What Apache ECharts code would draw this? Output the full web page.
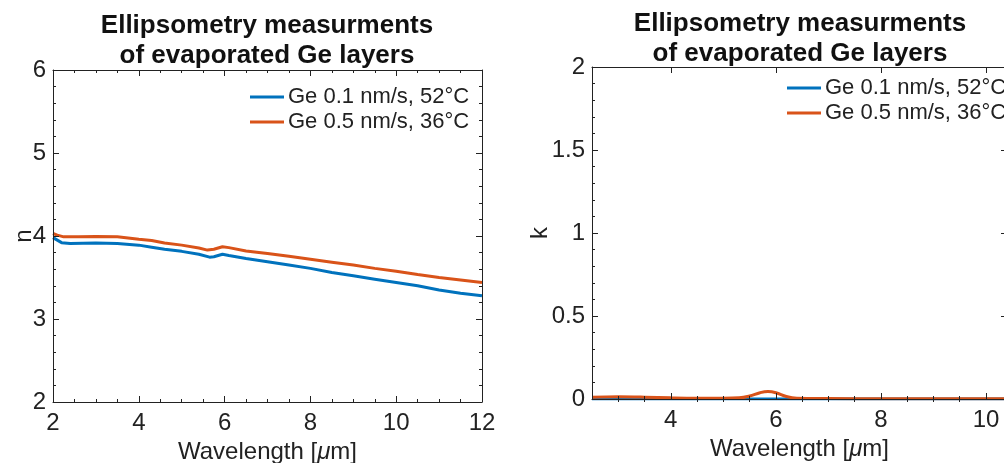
<!DOCTYPE html>
<html>
<head>
<meta charset="utf-8">
<script src="https://cdn.jsdelivr.net/npm/echarts@6/dist/echarts.min.js"></script>
<style>
  html, body { margin: 0; padding: 0; background: #fff; }
  #chart { width: 1004px; height: 463px; }
</style>
</head>
<body>
<div id="chart"></div>
<script>
// Refractive index n vs wavelength (µm)
const nWavelengthSlow = [2.0, 2.1, 2.2, 2.4, 3.0, 3.5, 4.0, 4.3, 4.6, 5.0, 5.4, 5.65, 5.75, 5.95, 6.1, 6.5, 7.0, 7.5, 8.0, 8.5, 9.0, 9.5, 10.0, 10.5, 11.0, 11.5, 12.0];
const nSlow = [3.98, 3.95, 3.92, 3.91, 3.915, 3.91, 3.89, 3.865, 3.84, 3.815, 3.78, 3.745, 3.75, 3.78, 3.765, 3.73, 3.69, 3.65, 3.61, 3.56, 3.52, 3.48, 3.44, 3.40, 3.35, 3.31, 3.28];
const nWavelengthFast = [2.0, 2.1, 2.25, 2.6, 3.0, 3.5, 4.0, 4.3, 4.6, 5.0, 5.4, 5.6, 5.75, 5.95, 6.1, 6.5, 7.0, 7.5, 8.0, 8.5, 9.0, 9.5, 10.0, 10.5, 11.0, 11.5, 12.0];
const nFast = [4.03, 4.01, 3.99, 3.99, 3.995, 3.99, 3.96, 3.945, 3.915, 3.89, 3.855, 3.83, 3.84, 3.87, 3.86, 3.82, 3.79, 3.755, 3.72, 3.685, 3.65, 3.61, 3.575, 3.535, 3.50, 3.47, 3.44];

// Extinction coefficient k vs wavelength (µm)
const kWavelengthSlow = [2.5, 4.0, 6.0, 8.0, 10.4];
const kSlow = [0, 0, 0, 0, 0];
const kWavelengthFast = [2.5, 3.0, 3.5, 4.0, 4.5, 5.0, 5.3, 5.5, 5.7, 5.85, 6.0, 6.2, 6.4, 7.0, 8.0, 9.0, 10.4];
const kFast = [0.010, 0.013, 0.011, 0.007, 0.005, 0.005, 0.007, 0.018, 0.038, 0.045, 0.038, 0.015, 0.005, 0.003, 0.002, 0.002, 0.002];

const seriesNames = ['Ge 0.1 nm/s, 52°C', 'Ge 0.5 nm/s, 36°C'];
const titleText = 'Ellipsometry measurments\nof evaporated Ge layers';
const xName = 'Wavelength [{it|μ}m]';

// Axis tick definitions
const nXRange = [2, 12];
const nYRange = [2, 6];
const kXRange = [2.5, 10.4];
const kYRange = [0, 2];
const kXMajor = [4, 6, 8, 10];
const kXMinor = [3, 3.5, 4.5, 5, 5.5, 6.5, 7, 7.5, 8.5, 9, 9.5];

const FONT = 'Liberation Sans, Arial, Helvetica, sans-serif';
const INK = '#222';
const BLUE = '#0072BD';
const ORANGE = '#D95319';

function pairs(xs, ys) { return xs.map((x, i) => [x, ys[i]]); }

const lineAxis = { show: true, onZero: false, lineStyle: { color: INK, width: 1 } };

function boxAxis(extra) {
  return Object.assign({
    type: 'value',
    axisLine: lineAxis,
    splitLine: { show: false },
    axisTick: { show: true, inside: true, length: 6, lineStyle: { color: INK, width: 1 } },
    minorTick: { show: true, length: 3, lineStyle: { color: INK, width: 1 } },
    axisLabel: { show: false },
    nameMoveOverlap: false,
    z: 5
  }, extra);
}

const labelStyle = { fontFamily: FONT, fontSize: 24, color: INK };
const nameStyle = {
  fontFamily: FONT, fontSize: 24, color: INK,
  rich: { it: { fontFamily: FONT, fontSize: 24, fontStyle: 'italic', color: INK } }
};

const xAxes = [
  // left panel
  boxAxis({ gridIndex: 0, position: 'bottom', min: nXRange[0], max: nXRange[1], interval: 2,
    minorTick: { show: true, splitNumber: 4, length: 3, lineStyle: { color: INK } },
    axisLabel: Object.assign({ show: true, margin: 9 }, labelStyle),
    name: xName, nameLocation: 'middle', nameGap: 38, nameTextStyle: nameStyle }),
  boxAxis({ gridIndex: 0, position: 'top', min: nXRange[0], max: nXRange[1], interval: 2,
    minorTick: { show: true, splitNumber: 4, length: 3, lineStyle: { color: INK } } }),
  // right panel: majors and minors as explicit values
  boxAxis({ gridIndex: 1, position: 'bottom', min: kXRange[0], max: kXRange[1],
    minorTick: { show: false },
    axisTick: { show: true, inside: true, length: 6, customValues: kXMajor, lineStyle: { color: INK } },
    axisLabel: Object.assign({ show: true, margin: 9, customValues: kXMajor }, labelStyle),
    name: xName, nameLocation: 'middle', nameGap: 38, nameTextStyle: nameStyle }),
  boxAxis({ gridIndex: 1, position: 'bottom', min: kXRange[0], max: kXRange[1],
    axisLine: { show: false }, minorTick: { show: false },
    axisTick: { show: true, inside: true, length: 3, customValues: kXMinor, lineStyle: { color: INK } } }),
  boxAxis({ gridIndex: 1, position: 'top', min: kXRange[0], max: kXRange[1],
    minorTick: { show: false },
    axisTick: { show: true, inside: true, length: 6, customValues: kXMajor, lineStyle: { color: INK } } }),
  boxAxis({ gridIndex: 1, position: 'top', min: kXRange[0], max: kXRange[1],
    axisLine: { show: false }, minorTick: { show: false },
    axisTick: { show: true, inside: true, length: 3, customValues: kXMinor, lineStyle: { color: INK } } })
];

const yAxes = [
  boxAxis({ gridIndex: 0, position: 'left', min: nYRange[0], max: nYRange[1], interval: 1,
    minorTick: { show: true, splitNumber: 5, length: 3, lineStyle: { color: INK } },
    axisLabel: Object.assign({ show: true, margin: 7 }, labelStyle),
    name: 'n', nameLocation: 'middle', nameGap: 17, nameTextStyle: nameStyle }),
  boxAxis({ gridIndex: 0, position: 'right', min: nYRange[0], max: nYRange[1], interval: 1,
    minorTick: { show: true, splitNumber: 5, length: 3, lineStyle: { color: INK } } }),
  boxAxis({ gridIndex: 1, position: 'left', min: kYRange[0], max: kYRange[1], interval: 0.5,
    minorTick: { show: true, splitNumber: 5, length: 3, lineStyle: { color: INK } },
    axisLabel: Object.assign({ show: true, margin: 7 }, labelStyle),
    name: 'k', nameLocation: 'middle', nameGap: 40, nameTextStyle: nameStyle }),
  boxAxis({ gridIndex: 1, position: 'right', min: kYRange[0], max: kYRange[1], interval: 0.5,
    minorTick: { show: true, splitNumber: 5, length: 3, lineStyle: { color: INK } } })
];

function lineSeries(name, color, xi, yi, data, smooth) {
  return {
    name, type: 'line', xAxisIndex: xi, yAxisIndex: yi, data,
    symbol: 'none', smooth: smooth || false, animation: false,
    lineStyle: { color, width: 3 }, itemStyle: { color }, z: 3
  };
}

const legendBase = {
  orient: 'vertical', itemWidth: 34, itemHeight: 14, itemGap: 3, padding: 0,
  data: seriesNames, icon: 'path://M0,0 L34,0 L34,3 L0,3 Z',
  textStyle: { fontFamily: FONT, fontSize: 22, color: INK, padding: [0, 0, 0, -1] },
  selectedMode: false
};

const titleStyle = { fontFamily: FONT, fontSize: 26, fontWeight: 'bold', color: '#111', lineHeight: 30 };

const chart = echarts.init(document.getElementById('chart'), null, { renderer: 'canvas' });
chart.setOption({
  backgroundColor: '#fff',
  animation: false,
  title: [
    { text: titleText, left: 267, top: 11, padding: 0, textAlign: 'center', textStyle: titleStyle },
    { text: titleText, left: 800, top: 9, padding: 0, textAlign: 'center', textStyle: titleStyle }
  ],
  grid: [
    { left: 53, top: 70, width: 429, height: 332, containLabel: false, outerBoundsMode: 'none' },
    { left: 592, top: 67, width: 415, height: 332, containLabel: false, outerBoundsMode: 'none' }
  ],
  legend: [
    Object.assign({}, legendBase, { left: 250, top: 86 }),
    Object.assign({}, legendBase, { left: 787, top: 77 })
  ],
  xAxis: xAxes,
  yAxis: yAxes,
  series: [
    lineSeries(seriesNames[0], BLUE, 0, 0, pairs(nWavelengthSlow, nSlow)),
    lineSeries(seriesNames[1], ORANGE, 0, 0, pairs(nWavelengthFast, nFast)),
    lineSeries(seriesNames[0], BLUE, 2, 2, pairs(kWavelengthSlow, kSlow)),
    lineSeries(seriesNames[1], ORANGE, 2, 2, pairs(kWavelengthFast, kFast), 0.4)
  ]
});
</script>
</body>
</html>
